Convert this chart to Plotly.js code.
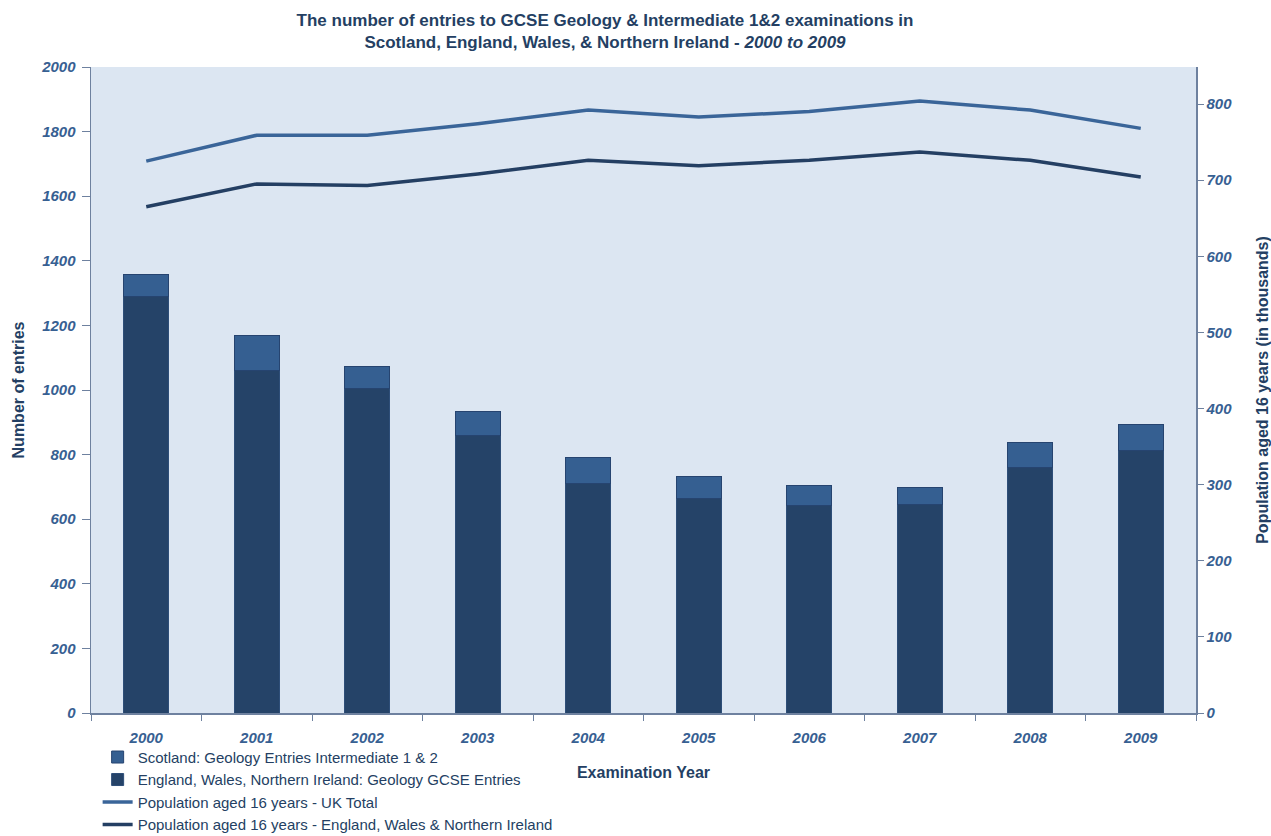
<!DOCTYPE html>
<html>
<head>
<meta charset="utf-8">
<script src="https://cdn.plot.ly/plotly-3.0.1.min.js"></script>
<style>body{margin:0;padding:0;background:#fff}#chart{width:1271px;height:836px}</style>
</head>
<body>
<div id="chart"></div>
<script>
const years = ['2000','2001','2002','2003','2004','2005','2006','2007','2008','2009'];
const ewniEntries = [1291, 1059, 1004, 858, 712, 665, 642, 647, 761, 813];
const scotlandEntries = [68, 111, 68, 74, 79, 67, 61, 52, 76, 81];
const popUK = [725, 759, 759, 774, 792, 783, 790, 804, 792, 768];
const popEWNI = [665, 695, 693, 708, 726, 719, 726, 737, 726, 704];

const FONT = '"Liberation Sans Narrow", "Liberation Sans", Arial, sans-serif';
const tickFont = {family: FONT, size: 15, color: '#376092', weight: 'bold', style: 'italic'};
const dark = '#254061';

const traces = [
  {type:'bar', x: years, y: ewniEntries, name:'England, Wales, Northern Ireland: Geology GCSE Entries',
   marker:{color:'#254368', line:{color:'#2E4E78', width:1}}, legendrank: 2},
  {type:'bar', x: years, y: scotlandEntries, name:'Scotland: Geology Entries Intermediate 1 & 2',
   marker:{color:'#355F91', line:{color:'#264470', width:1}}, legendrank: 1},
  {type:'scatter', mode:'lines', x: years, y: popUK, yaxis:'y2', name:'Population aged 16 years - UK Total',
   line:{color:'#3A6599', width:3.5}, legendrank: 3},
  {type:'scatter', mode:'lines', x: years, y: popEWNI, yaxis:'y2', name:'Population aged 16 years - England, Wales & Northern Ireland',
   line:{color:'#243F63', width:3.5}, legendrank: 4}
];

const layout = {
  width: 1271, height: 836,
  margin: {l: 91, r: 75, t: 67, b: 123, autoexpand: false},
  paper_bgcolor: '#ffffff',
  plot_bgcolor: '#DCE6F2',
  barmode: 'stack',
  bargap: 0.59,
  font: {family: FONT, color: dark},
  title: {
    text: 'The number of entries to GCSE Geology & Intermediate 1&2 examinations in<br>Scotland, England, Wales, & Northern Ireland - <i>2000 to 2009</i>',
    font: {family: FONT, size: 17, color: '#243F63', weight: 'bold'},
    x: 0.476, xanchor: 'center', y: 0.969, yanchor: 'top'
  },
  xaxis: {
    type: 'category',
    showline: true, linecolor: '#6E819F', linewidth: 1.5,
    ticks: 'outside', tickson: 'boundaries', ticklen: 6, tickcolor: '#6E819F',
    tickfont: tickFont, ticklabelstandoff: 10,
    showgrid: false,
    title: {text: 'Examination Year', font: {family: FONT, size: 16, color: '#243F63', weight: 'bold'}, standoff: 22},
    automargin: false
  },
  yaxis: {
    range: [0, 2000], dtick: 200, tick0: 0,
    showline: true, linecolor: '#6E819F', linewidth: 1.5,
    ticks: 'outside', ticklen: 8, tickcolor: '#6E819F',
    tickfont: tickFont, ticklabelstandoff: 3, showgrid: false, zeroline: false,
    title: {text: 'Number of entries', font: {family: FONT, size: 16, color: '#243F63', weight: 'bold'}, standoff: 12},
    automargin: false
  },
  yaxis2: {
    overlaying: 'y', side: 'right',
    range: [0, 848.6], dtick: 100, tick0: 0,
    showline: true, linecolor: '#6E819F', linewidth: 1.5,
    ticks: 'outside', ticklen: 6, tickcolor: '#6E819F',
    tickfont: tickFont, showgrid: false, zeroline: false,
    title: {text: 'Population aged 16 years (in thousands)', font: {family: FONT, size: 16, color: '#243F63', weight: 'bold'}, standoff: 26},
    automargin: false
  },
  showlegend: true,
  legend: {
    orientation: 'v', traceorder: 'normal',
    x: 0.006, xanchor: 'left', y: -0.043, yanchor: 'top',
    bgcolor: 'rgba(0,0,0,0)',
    font: {family: FONT, size: 15, color: '#243F63'},
    itemwidth: 30, tracegroupgap: 0
  }
};

Plotly.newPlot('chart', traces, layout, {displayModeBar: false, staticPlot: true});
</script>
</body>
</html>
